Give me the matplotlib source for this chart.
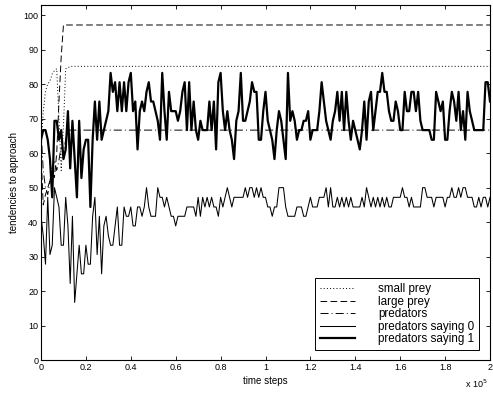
import matplotlib
matplotlib.use('Agg')
import matplotlib.pyplot as plt
import numpy as np

plt.rcParams['font.family'] = ['Liberation Sans', 'DejaVu Sans']
plt.rcParams['lines.scale_dashes'] = False

# DATA (x in units of 10^5 time steps)
time_steps = np.linspace(0, 2, 201)

saying_1 = [
    63.9, 66.7, 66.7, 63.9, 58.3, 47.2, 69.4, 69.4, 63.9, 66.7,
    58.3, 61.1, 72.2, 55.6, 69.4, 58.3, 47.2, 69.4, 52.8, 61.1,
    63.9, 63.9, 44.4, 63.9, 75.0, 63.9, 75.0, 63.9, 66.7, 69.4,
    72.2, 83.3, 77.8, 80.6, 72.2, 80.6, 72.2, 80.6, 72.2, 80.6,
    83.3, 72.2, 75.0, 61.1, 72.2, 75.0, 72.2, 77.8, 80.6, 75.0,
    75.0, 72.2, 69.4, 63.9, 83.3, 72.2, 63.9, 77.8, 72.2, 72.2,
    72.2, 69.4, 72.2, 77.8, 80.6, 66.7, 80.6, 66.7, 75.0, 66.7,
    63.9, 69.4, 66.7, 66.7, 66.7, 75.0, 66.7, 75.0, 61.1, 80.6,
    83.3, 72.2, 66.7, 72.2, 66.7, 63.9, 58.3, 69.4, 72.2, 83.3,
    69.4, 69.4, 72.2, 75.0, 80.6, 77.8, 77.8, 63.9, 63.9, 72.2,
    77.8, 69.4, 66.7, 63.9, 58.3, 66.7, 72.2, 69.4, 63.9, 58.3,
    83.3, 69.4, 72.2, 69.4, 63.9, 66.7, 66.7, 69.4, 69.4, 72.2,
    63.9, 66.7, 66.7, 66.7, 72.2, 80.6, 75.0, 69.4, 66.7, 63.9,
    69.4, 72.2, 77.8, 69.4, 77.8, 66.7, 77.8, 69.4, 63.9, 69.4,
    66.7, 63.9, 61.1, 66.7, 75.0, 63.9, 75.0, 77.8, 66.7, 72.2,
    77.8, 77.8, 83.3, 77.8, 77.8, 72.2, 69.4, 69.4, 75.0, 72.2,
    66.7, 66.7, 77.8, 72.2, 72.2, 77.8, 77.8, 72.2, 77.8, 69.4,
    66.7, 66.7, 66.7, 66.7, 63.9, 63.9, 77.8, 75.0, 72.2, 75.0,
    63.9, 63.9, 72.2, 77.8, 75.0, 69.4, 77.8, 66.7, 72.2, 63.9,
    77.8, 72.2, 69.4, 66.7, 66.7, 66.7, 66.7, 66.7, 80.6, 80.6,
    75.0,
]

saying_0 = [
    41.7, 36.1, 27.8, 47.2, 30.6, 33.3, 50.0, 47.2, 44.4, 33.3,
    33.3, 47.2, 38.9, 22.2, 41.7, 16.7, 25.0, 33.3, 25.0, 25.0,
    33.3, 27.8, 27.8, 41.7, 47.2, 30.6, 41.7, 25.0, 38.9, 41.7,
    36.1, 33.3, 33.3, 38.9, 44.4, 33.3, 33.3, 44.4, 41.7, 41.7,
    44.4, 38.9, 38.9, 44.4, 44.4, 41.7, 44.4, 50.0, 44.4, 41.7,
    41.7, 41.7, 50.0, 47.2, 47.2, 44.4, 47.2, 44.4, 41.7, 41.7,
    38.9, 41.7, 41.7, 41.7, 41.7, 44.4, 44.4, 44.4, 44.4, 41.7,
    47.2, 41.7, 47.2, 44.4, 47.2, 44.4, 47.2, 44.4, 44.4, 41.7,
    47.2, 44.4, 47.2, 50.0, 47.2, 44.4, 47.2, 47.2, 47.2, 47.2,
    47.2, 50.0, 47.2, 50.0, 50.0, 47.2, 50.0, 47.2, 50.0, 47.2,
    47.2, 44.4, 44.4, 41.7, 44.4, 44.4, 50.0, 50.0, 50.0, 44.4,
    41.7, 41.7, 41.7, 41.7, 44.4, 44.4, 44.4, 41.7, 41.7, 44.4,
    47.2, 44.4, 44.4, 44.4, 47.2, 47.2, 47.2, 50.0, 44.4, 50.0,
    44.4, 44.4, 47.2, 44.4, 47.2, 44.4, 47.2, 44.4, 47.2, 44.4,
    44.4, 44.4, 44.4, 47.2, 44.4, 50.0, 47.2, 44.4, 47.2, 44.4,
    47.2, 44.4, 47.2, 44.4, 47.2, 44.4, 44.4, 47.2, 47.2, 47.2,
    47.2, 50.0, 47.2, 47.2, 44.4, 47.2, 44.4, 44.4, 44.4, 44.4,
    50.0, 50.0, 47.2, 47.2, 47.2, 44.4, 47.2, 47.2, 47.2, 47.2,
    44.4, 47.2, 47.2, 50.0, 47.2, 47.2, 50.0, 47.2, 50.0, 50.0,
    47.2, 47.2, 47.2, 44.4, 44.4, 47.2, 44.4, 47.2, 47.2, 44.4,
    47.2,
]

# early transients, then the value holds until the end of the run
small_prey_t = [0.0, 0.01, 0.02, 0.03, 0.04, 0.05, 0.06, 0.07, 0.08, 0.09, 0.10, 0.11, 0.12, 0.13, 2.0]
small_prey = [62.0, 72.0, 78.0, 80.0, 81.0, 83.0, 84.0, 84.5, 70.0, 55.0, 68.0, 84.5, 84.8, 85.2, 85.2]

large_prey_t = [0.0, 0.01, 0.02, 0.03, 0.04, 0.05, 0.06, 0.07, 0.08, 0.09, 0.10, 2.0]
large_prey = [60.0, 45.0, 48.0, 50.0, 52.0, 55.0, 53.0, 60.0, 75.0, 88.0, 97.2, 97.2]

predators_t = [0.0, 0.01, 0.02, 0.03, 0.04, 0.05, 0.06, 0.07, 0.08, 0.09, 0.10, 0.11, 0.12, 2.0]
predators = [66.7, 55.0, 50.0, 48.0, 52.0, 56.0, 58.0, 55.0, 58.0, 62.0, 60.0, 64.0, 66.7, 66.7]

x_ticks = [0, 0.2, 0.4, 0.6, 0.8, 1.0, 1.2, 1.4, 1.6, 1.8, 2.0]
x_tick_labels = ['0', '0.2', '0.4', '0.6', '0.8', '1', '1.2', '1.4', '1.6', '1.8', '2']
y_ticks = [0, 10, 20, 30, 40, 50, 60, 70, 80, 90, 100]


fig = plt.figure(figsize=(4.93, 3.96), dpi=100)
ax = fig.add_axes([41 / 493, 36 / 396, 449 / 493, 355 / 396])

ax.plot(small_prey_t, small_prey, color='black', lw=0.7,
        linestyle=(0, (0.7, 1.6)), label='small prey')
ax.plot(large_prey_t, large_prey, color='black', lw=0.7,
        linestyle=(0, (4.8, 2.4)), label='large prey')
ax.plot(predators_t, predators, color='black', lw=0.7,
        linestyle=(0, (5.8, 2.2, 0.7, 2.2)), label='predators')
ax.plot(time_steps, saying_0, color='black', lw=0.75, label='predators saying 0')
ax.plot(time_steps, saying_1, color='black', lw=1.6, label='predators saying 1')

ax.set_xlim(0, 2)
ax.set_ylim(0, 103)
ax.set_xticks(x_ticks)
ax.set_xticklabels(x_tick_labels)
ax.set_yticks(y_ticks)
ax.tick_params(direction='in', top=True, right=True, labelsize=6.5,
               length=3, width=0.6, pad=2)
for s in ax.spines.values():
    s.set_linewidth(0.8)

ax.set_xlabel('time steps', fontsize=7, labelpad=3)
ax.set_ylabel('tendencies to approach', fontsize=7, labelpad=3)
fig.text(488 / 493, 1 - 384 / 396, r'x 10$^5$', fontsize=6.5, ha='right', va='center')

leg = ax.legend(loc='lower right', bbox_to_anchor=(0.9755, 0.028), borderaxespad=0,
                fontsize=8.4, handlelength=3.0, handletextpad=2.0, labelspacing=0.05,
                borderpad=0.4, fancybox=False, framealpha=1, edgecolor='black')
leg.get_frame().set_linewidth(0.7)

fig.savefig('out.png', dpi=100)
